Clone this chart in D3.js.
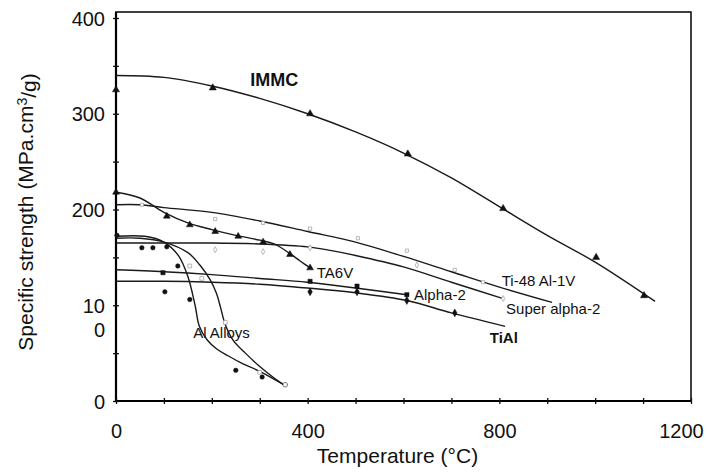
<!DOCTYPE html>
<html>
<head>
<meta charset="utf-8">
<script src="https://cdn.jsdelivr.net/npm/d3@7"></script>
<style>
  body { margin: 0; background: #fff; }
  svg { font-family: "Liberation Sans", Arial, sans-serif; }
  .curve { fill: none; stroke: #1a1a1a; stroke-width: 1.4; }
  .lbl { font-size: 15px; fill: #111; }
</style>
</head>
<body>
<script>
// curve values: [temperature °C, specific strength]
let immcCurve = [[0,340],[100,338],[200,329],[300,316],[400,300],[500,281],[600,259],[700,233],[800,203],[900,173],[1000,145],[1125,104]];
let immcPts = [[0,325],[202,327],[405,300],[609,258],[808,201],[1002,150],[1102,110]];

let ta6vCurve = [[0,218],[50,212],[100,197],[150,186],[200,179],[250,173],[300,168],[330,164],[360,155],[385,146],[405,139]];
let ta6vPts = [[0,218],[106,193],[154,184],[207,177],[255,172],[307,166],[363,153],[405,139]];

let ti48Curve = [[0,205],[50,205],[100,202],[200,197],[300,188],[400,177],[500,166],[600,151],[700,135],[800,119],[910,103]];
let ti48Pts = [[54,205],[207,190],[307,186],[405,180],[505,170],[607,157],[707,137],[766,124]];

let superCurve = [[0,165],[100,165],[200,165],[300,164],[400,161],[450,157],[500,152],[600,140],[700,124],[808,107]];
let superPts = [[207,158],[307,156],[405,160],[628,142],[808,107]];

let alpha2Curve = [[0,137],[100,135],[200,132],[300,128],[400,124],[500,118],[607,111]];
let alpha2Pts = [[98,134],[405,125],[503,120],[607,111]];

let tialCurve = [[0,125],[100,125],[200,124],[300,122],[400,118],[500,113],[607,105],[700,92],[812,78]];
let tialPts = [[405,114],[503,114],[607,105],[707,92]];

let alACurve = [[0,172],[60,172],[100,166],[130,152],[150,130],[165,100],[174,78],[190,64],[211,54],[235,47],[260,40],[300,31],[350,17]];
let alAPts = [[2,173],[54,160],[77,160],[106,161],[129,141],[102,114],[154,106],[250,32],[305,25],[353,17]];

let alBCurve = [[0,170],[50,170],[100,166],[150,155],[175,142],[196,127],[210,112],[218,98],[228,80],[245,63],[270,50],[300,36],[330,24],[350,17]];
let alBPts = [[154,141],[179,128],[228,82],[300,30],[353,17]];

// tick values
let xTicks = d3.range(0, 1201, 100);
let xLabels = [0, 400, 800, 1200];
let yTicks = d3.range(0, 401, 50);
let yLabels = [0, 100, 200, 300, 400];

// annotation anchors (data units)
let notes = [
  {text: "IMMC", x: 280, y: 329, bold: true, size: 18},
  {text: "TA6V", x: 419, y: 128},
  {text: "Ti-48 Al-1V", x: 805, y: 120},
  {text: "Super alpha-2", x: 814, y: 91},
  {text: "Alpha-2", x: 622, y: 105},
  {text: "TiAl", x: 780, y: 61, bold: true},
  {text: "Al Alloys", x: 161, y: 66}
];

let svgWidth = 707;
let svgHeight = 473;
let margin = {top: 18, right: 16, bottom: 72, left: 116};
let width = 691 - margin.left;
let height = 401 - margin.top;

let svg = d3.select("body").append("svg")
    .attr("width", svgWidth)
    .attr("height", svgHeight);

let chartGroup = svg.append("g")
    .attr("transform", `translate(${margin.left}, ${margin.top})`);

let xScale = d3.scaleLinear().domain([0, 1200]).range([0, width]);
let yScale = d3.scaleLinear().domain([0, 400]).range([height, 0]);

// frame
chartGroup.append("rect")
    .attr("x", 0).attr("y", -6)
    .attr("width", width).attr("height", height + 6)
    .attr("fill", "none").attr("stroke", "#111").attr("stroke-width", 1.6);
chartGroup.append("line")
    .attr("x1", 0).attr("x2", 0).attr("y1", -6).attr("y2", height)
    .attr("stroke", "#000").attr("stroke-width", 2.2);
chartGroup.append("line")
    .attr("x1", 0).attr("x2", width).attr("y1", height).attr("y2", height)
    .attr("stroke", "#000").attr("stroke-width", 2);

// axes
let bottomAxis = d3.axisBottom(xScale).tickValues(xTicks).tickSize(3)
    .tickFormat(d => xLabels.includes(d) ? d : "");
let xg = chartGroup.append("g").attr("transform", `translate(0, ${height})`).call(bottomAxis);
xg.select(".domain").remove();
xg.selectAll(".tick line").attr("y1", -3).attr("y2", 3).attr("stroke", "#111").attr("stroke-width", 1.3);
xg.selectAll(".tick text").attr("y", 23).attr("dy", "0.71em")
    .style("font-size", "20px").style("font-family", "Liberation Sans, Arial, sans-serif").attr("fill", "#111")
    .attr("dx", d => d === 1200 ? -10 : 0);

let leftAxis = d3.axisLeft(yScale).tickValues(yTicks).tickSize(3)
    .tickFormat(d => yLabels.includes(d) ? d : "");
let yg = chartGroup.append("g").call(leftAxis);
yg.select(".domain").remove();
yg.selectAll(".tick line").attr("x1", -3).attr("x2", 3).attr("stroke", "#111").attr("stroke-width", 1.3);
yg.selectAll(".tick text").attr("x", -11).attr("dy", "0.35em")
    .style("font-size", "20px").style("font-family", "Liberation Sans, Arial, sans-serif").attr("fill", "#111");
// the scanned "100" label is broken over two lines
yg.selectAll(".tick text").filter(d => d === 100).each(function() {
  let t = d3.select(this).text("");
  t.append("tspan").attr("x", -11).attr("dy", "0.35em").text("10");
  t.append("tspan").attr("x", -11).attr("dy", "1.2em").text("0");
});

// curves
let line = d3.line()
    .x(d => xScale(d[0]))
    .y(d => yScale(d[1]))
    .curve(d3.curveCatmullRom.alpha(0.5));

let curves = [immcCurve, ta6vCurve, ti48Curve, superCurve, alpha2Curve, tialCurve, alACurve, alBCurve];
chartGroup.selectAll(".curve")
    .data(curves)
    .enter()
    .append("path")
    .classed("curve", true)
    .attr("d", line);

// markers
function drawPts(pts, type, filled, size) {
  chartGroup.append("g").selectAll("path")
    .data(pts)
    .enter()
    .append("path")
    .attr("transform", d => `translate(${xScale(d[0])}, ${yScale(d[1])})`)
    .attr("d", d3.symbol().type(type).size(size))
    .attr("fill", filled ? "#111" : "#fff")
    .attr("stroke", filled ? "#111" : "#999")
    .attr("stroke-width", filled ? 0.5 : 0.7);
}
drawPts(immcPts, d3.symbolTriangle, true, 22);
drawPts(ta6vPts, d3.symbolTriangle, true, 20);
drawPts(ti48Pts, d3.symbolSquare, false, 10);
drawPts(superPts, d3.symbolDiamond, false, 10);
drawPts(alpha2Pts, d3.symbolSquare, true, 18);
drawPts(tialPts, d3.symbolDiamond, true, 18);
drawPts(alAPts, d3.symbolCircle, true, 16);
drawPts(alBPts, d3.symbolSquare, false, 14);

// series labels
chartGroup.selectAll(".lbl")
    .data(notes)
    .enter()
    .append("text")
    .classed("lbl", true)
    .attr("x", d => xScale(d.x))
    .attr("y", d => yScale(d.y))
    .style("font-weight", d => d.bold ? "bold" : "normal")
    .style("font-size", d => (d.size || 15) + "px")
    .text(d => d.text);

// axis titles
svg.append("text")
  .attr("transform", `translate(${margin.left + xScale(600) - 6}, 463)`)
  .style("text-anchor", "middle")
  .style("font-size", "21px")
  .attr("fill", "#111")
  .text("Temperature (°C)");

let yTitle = svg.append("text")
  .attr("transform", "translate(33, 212) rotate(-90)")
  .style("text-anchor", "middle")
  .style("font-size", "21px")
  .attr("fill", "#111");
yTitle.append("tspan").text("Specific strength (MPa.cm");
yTitle.append("tspan").attr("dy", "-0.4em").style("font-size", "14px").text("3");
yTitle.append("tspan").attr("dy", "0.4em").text("/g)");
</script>
</body>
</html>
